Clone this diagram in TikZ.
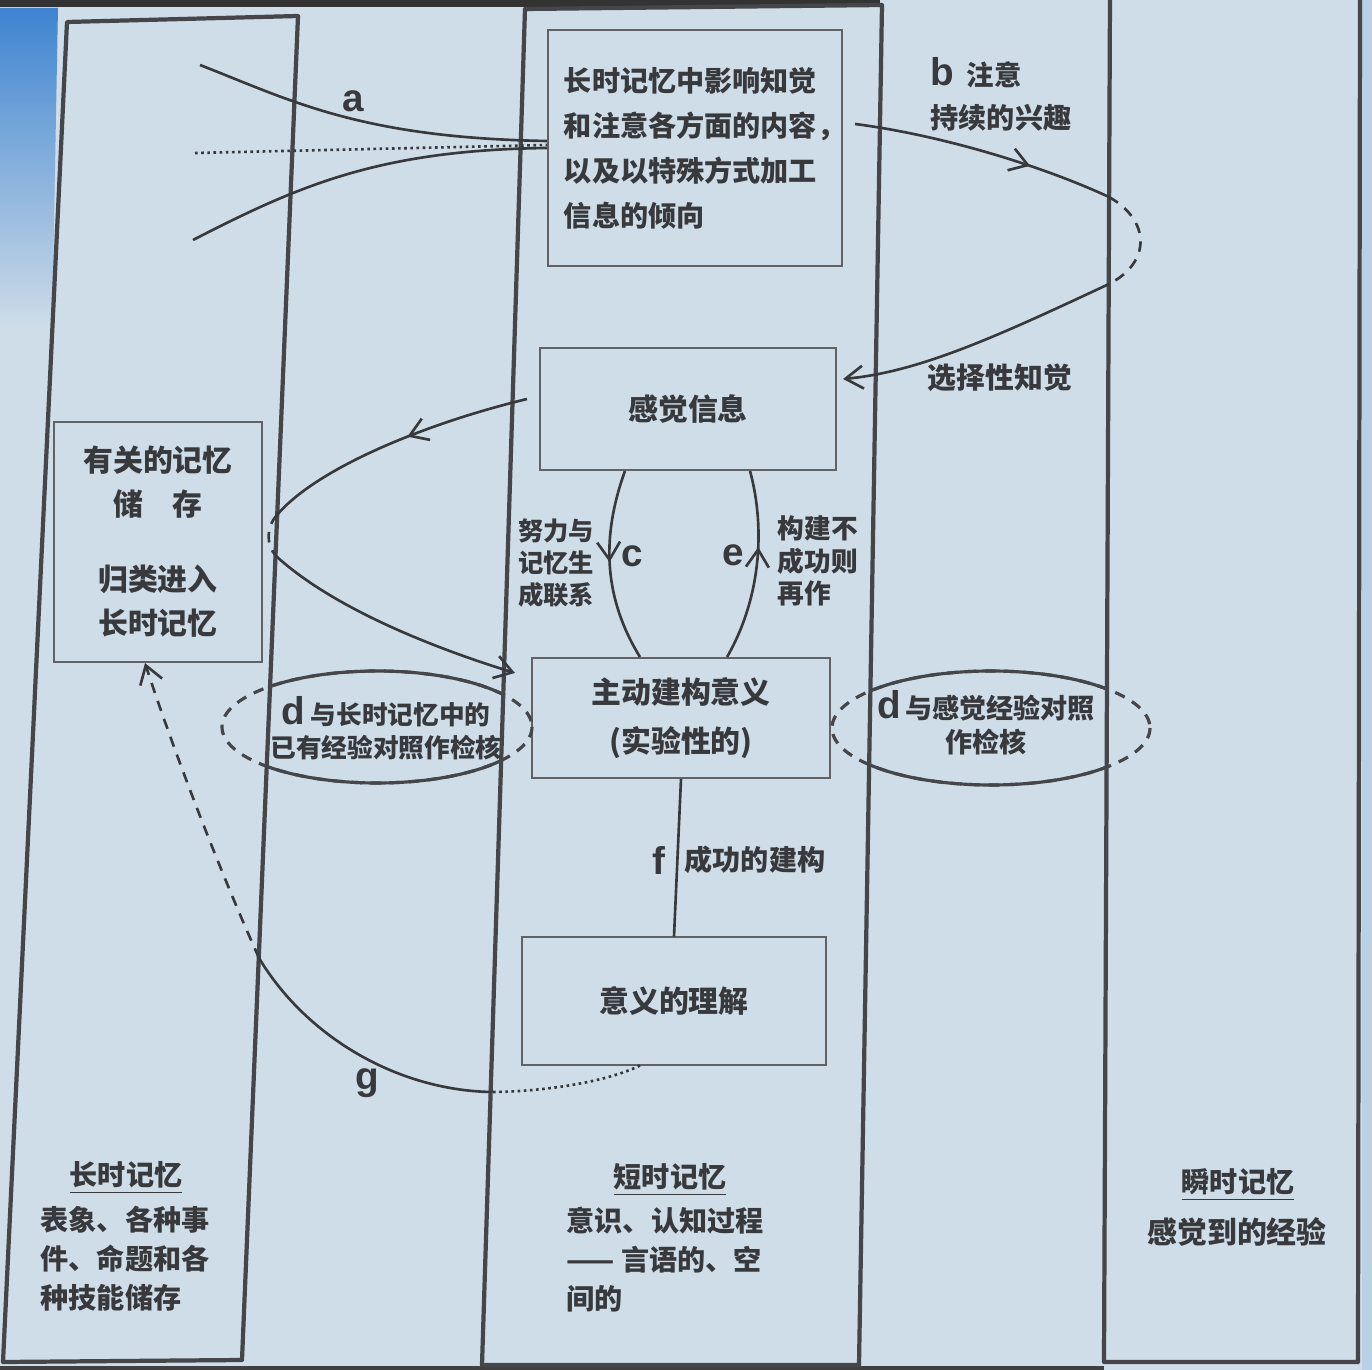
\documentclass[tikz,border=0pt]{standalone}
\usepackage{fontspec}
\setmainfont{Noto Sans CJK SC}
\newfontfamily\lat{Liberation Sans}
\usetikzlibrary{arrows.meta,decorations.markings}
\definecolor{slidebg}{RGB}{207,221,232}
\definecolor{cornerblue}{RGB}{62,132,208}
\definecolor{edgeblue}{RGB}{186,208,228}
\definecolor{ink}{RGB}{56,57,60}
\definecolor{rim}{RGB}{68,70,74}
\newcommand\txtbig{\bfseries\fontsize{8.5}{13.7}\selectfont}
\newcommand\txtmid{\bfseries\fontsize{8}{12.8}\selectfont}
\newcommand\txtcol{\bfseries\fontsize{8}{11.2}\selectfont}
\newcommand\txtsmall{\bfseries\fontsize{7.3}{9.4}\selectfont}
\newcommand\txtlat{\lat\bfseries\fontsize{11}{11}\selectfont}
\tikzset{
  memcol/.style={draw=rim, line width=1.2pt, line join=round},
  stage/.style={draw=rim!85, line width=0.55pt, text=ink, align=center, inner sep=0pt},
  flow/.style={draw=ink, line width=0.75pt},
  barb/.style={-{Straight Barb[length=5pt,width=6.5pt]}},
  midbarb/.style={postaction={decorate}, decoration={markings,
    mark=at position #1 with {\arrow{Straight Barb[length=5pt,width=6.5pt]}}}},
  ring/.style={draw=rim, line width=0.9pt},
  gapdash/.style={dash pattern=on 3pt off 2.4pt},
  letter/.style={font=\txtlat, text=ink, inner sep=0pt},
  note/.style={text=ink, inner sep=0pt},
}
\begin{document}
\begin{tikzpicture}[x=0.01cm, y=-0.01cm]
\useasboundingbox (0,0) rectangle (1372,1370);
% slide
\fill[slidebg] (0,0) rectangle (1372,1370);
\shade[top color=cornerblue, bottom color=slidebg] (0,8) -- (58,8) -- (52,330) -- (0,330) -- cycle;
\fill[edgeblue] (1362,0) rectangle (1372,1370);
\fill[black!80] (0,0) rectangle (880,7);
\fill[black!75] (0,1366) rectangle (1104,1370);

% memory columns (photographed slightly in perspective)
\draw[memcol] (67,22) -- (298,16) -- (242,1360) -- (3,1362) -- cycle;
\draw[memcol] (525,9) -- (882,5) -- (859,1365) -- (482,1365) -- cycle;
\draw[memcol] (1110,-5) -- (1360,-5) -- (1358,1362) -- (1104,1362) -- cycle;

% boxes
\node[stage, minimum width=2.94cm, minimum height=2.35cm, text width=2.62cm, align=left, font=\txtmid] (infl) at (695,148)
  {长时记忆中影响知觉\\和注意各方面的内容，\\以及以特殊方式加工\\信息的倾向};
\node[stage, minimum width=2.96cm, minimum height=1.22cm, font=\txtbig] (sense) at (688,409) {感觉信息};
\node[stage, minimum width=2.98cm, minimum height=1.20cm, font=\txtbig] (cons) at (681,718) {主动建构意义\\(实验性的)};
\node[stage, minimum width=3.04cm, minimum height=1.27cm, font=\txtbig] (under) at (674,1001) {意义的理解};
\node[stage, minimum width=2.07cm, minimum height=2.40cm, font=\bfseries\fontsize{8.5}{12.5}\selectfont] (rel) at (158,542)
  {有关的记忆\\储　存\\[8.8pt]归类进入\\长时记忆};

% check rings, solid between the columns
\coordinate (ringL) at (377,727);
\coordinate (ringR) at (991,728);
\draw[ring, gapdash] (ringL) ellipse [x radius=155, y radius=56];
\draw[ring, gapdash] (ringR) ellipse [x radius=159, y radius=57];
\begin{scope}
  \clip (299,0) -- (525,0) -- (482,1370) -- (242,1370) -- cycle;
  \draw[ring] (ringL) ellipse [x radius=155, y radius=56];
\end{scope}
\begin{scope}
  \clip (882,0) -- (1110,0) -- (1104,1370) -- (859,1370) -- cycle;
  \draw[ring] (ringR) ellipse [x radius=159, y radius=57];
\end{scope}
\node[note, font=\txtsmall, align=center] (chkL) at (386,728) {{\txtlat d}\ 与长时记忆中的\\已有经验对照作检核};
\node[note, font=\bfseries\fontsize{7.7}{9.6}\selectfont, align=center] (chkR) at (986,723) {{\txtlat d}\,与感觉经验对照\\作检核};

% a
\coordinate (aHi) at (200,65);
\coordinate (aMid) at (195,153);
\coordinate (aLo) at (193,240);
\draw[flow] (aHi) .. controls (290,100) and (360,138) .. ([yshift=0.07cm]infl.west);
\draw[flow, densely dotted] (aMid) -- ([yshift=0.03cm]infl.west);
\draw[flow] (aLo) .. controls (300,185) and (380,150) .. (infl.west);
\node[letter] (la) at (353,101) {a};

% b
\coordinate (bOut) at (1109,197);
\coordinate (bBack) at (1109,284);
\draw[flow, midbarb=0.68] ([xshift=0.12cm, yshift=0.24cm]infl.east) .. controls (940,135) and (1040,165) .. (bOut);
\draw[flow, gapdash] (bOut) .. controls (1150,220) and (1152,262) .. (bBack);
\draw[flow, barb] (bBack) .. controls (1000,335) and (920,372) .. ([xshift=0.06cm, yshift=0.3cm]sense.east);
\node[note, anchor=west, font=\bfseries\fontsize{7.8}{9}\selectfont] (lb) at (930,73) {{\txtlat b}\ \ 注意};
\node[note, font=\txtmid] (interest) at (1001,118) {持续的兴趣};
\node[note, font=\bfseries\fontsize{8.2}{9}\selectfont] (select) at (1000,378) {选择性知觉};

% sense -> memory -> construction
\coordinate (loopIn) at (277,515);
\coordinate (loopOut) at (276,556);
\draw[flow, midbarb=0.45] ([xshift=-0.12cm, yshift=0.1cm]sense.west) .. controls (420,425) and (315,470) .. (loopIn);
\draw[flow, gapdash] (loopIn) .. controls (266,527) and (266,545) .. (loopOut);
\draw[flow, barb] (loopOut) .. controls (335,610) and (440,650) .. ([xshift=-0.16cm, yshift=0.45cm]cons.west);

% c, e
\draw[flow, midbarb=0.48] ([xshift=-0.63cm]sense.south) .. controls (600,540) and (605,600) .. ([xshift=-0.41cm]cons.north);
\draw[flow, midbarb=0.6] ([xshift=0.46cm]cons.north) .. controls (760,600) and (766,530) .. ([xshift=0.62cm]sense.south);
\node[letter] (lc) at (632,556) {c};
\node[letter] (le) at (733,555) {e};
\node[note, align=left, font=\bfseries\fontsize{7.2}{9.2}\selectfont] (effort) at (556,563) {努力与\\记忆生\\成联系};
\node[note, align=left, font=\bfseries\fontsize{7.6}{9.2}\selectfont] (retry) at (818,561) {构建不\\成功则\\再作};

% f
\draw[flow] (cons.south) -- (under.north);
\node[letter] (lf) at (659,860) {f};
\node[note, font=\txtmid] (succ) at (755,860) {成功的建构};

% g
\coordinate (gIn) at (491,1092);
\coordinate (gUp) at (259,958);
\draw[flow, densely dotted] ([xshift=-0.34cm]under.south) .. controls (600,1085) and (530,1092) .. (gIn);
\draw[flow] (gIn) .. controls (395,1090) and (305,1035) .. (gUp);
\draw[flow, barb, gapdash] (gUp) .. controls (215,860) and (170,740) .. ([xshift=-0.13cm]rel.south);
\node[letter] (lg) at (367,1083) {g};

% column titles
\node[note, font=\txtmid] (ltmT) at (126,1178) {\underline{长时记忆}};
\node[note, font=\txtcol, align=left, anchor=north west] (ltmB) at (40,1205) {表象、各种事\\件、命题和各\\种技能储存};
\node[note, font=\txtmid] (stmT) at (670,1180) {\underline{短时记忆}};
\node[note, font=\txtcol, align=left, anchor=north west] (stmB) at (566,1206) {意识、认知过程\\——\ 言语的、空\\间的};
\node[note, font=\txtmid] (srT) at (1238,1185) {\underline{瞬时记忆}};
\node[note, font=\txtbig] (srB) at (1237,1232) {感觉到的经验};
\end{tikzpicture}
\end{document}
